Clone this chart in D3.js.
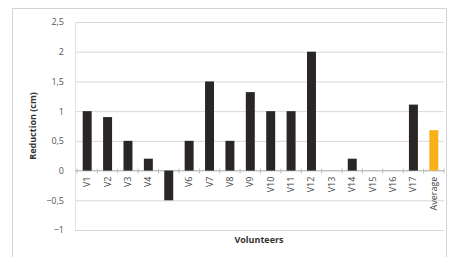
<!DOCTYPE html>
<html>
<head>
<meta charset="utf-8">
<script src="https://cdn.jsdelivr.net/npm/d3@7"></script>
<style>
  body { margin: 0; background: #fff; }
  text { font-family: "Open Sans", "DejaVu Sans", sans-serif; }
</style>
</head>
<body>
<svg width="453" height="257"></svg>
<script>
// Chart data.
const categories = ["V1", "V2", "V3", "V4", "V5", "V6", "V7", "V8", "V9", "V10",
  "V11", "V12", "V13", "V14", "V15", "V16", "V17", "Average"];
const reduction = [1, 0.9, 0.5, 0.2, -0.5, 0.5, 1.5, 0.5, 1.32, 1,
  1, 2, 0, 0.2, 0, 0, 1.11, 0.68];
const yTicks = [-1, -0.5, 0, 0.5, 1, 1.5, 2, 2.5];

// Rendering variables.
const svg = d3.select("svg");
const margin = { left: 77, right: 9, top: 22, bottom: 27 };
const width = 453, height = 257;
const comma = d3.formatLocale({ decimal: ",", thousands: ".", grouping: [3], currency: ["", ""] });
const fmt = (d) => comma.format("")(d);

const x = d3.scaleBand()
  .domain(categories)
  .range([margin.left, width - margin.right])
  .paddingInner(0.56)
  .paddingOuter(0.28);

const y = d3.scaleLinear()
  .domain([-1, 2.5])
  .range([height - margin.bottom, margin.top]);

// Outer frame.
svg.append("rect")
  .attr("x", 12.5).attr("y", 8.5)
  .attr("width", 434).attr("height", 260)
  .attr("fill", "none")
  .attr("stroke", "#d4d4d4");

// Grid lines and y labels.
svg.append("g")
  .attr("transform", `translate(${margin.left - 2},0)`)
  .call(d3.axisLeft(y).tickValues(yTicks).tickFormat(fmt)
    .tickSize(-(width - margin.right - margin.left + 2)).tickPadding(11))
  .call((g) => g.select(".domain").remove())
  .call((g) => g.selectAll("line").attr("stroke", "#d9d9d9"))
  .call((g) => g.selectAll("text").attr("fill", "#555").attr("font-size", 9));

// Y axis line.
svg.append("line")
  .attr("x1", margin.left - 1.5).attr("x2", margin.left - 1.5)
  .attr("y1", y(2.5)).attr("y2", y(-1))
  .attr("stroke", "#e2e2e2");

// Zero axis with ticks between categories.
const bounds = categories.map((c) => x(c) - x.step() * x.paddingInner() / 2);
bounds.push(width - margin.right);
svg.append("line")
  .attr("x1", margin.left - 2).attr("x2", width - margin.right)
  .attr("y1", y(0)).attr("y2", y(0))
  .attr("stroke", "#bdbdbd");
svg.selectAll(".tick-x")
  .data(bounds)
  .join("line")
  .attr("class", "tick-x")
  .attr("x1", (d) => d).attr("x2", (d) => d)
  .attr("y1", y(0) - 2).attr("y2", y(0) + 3)
  .attr("stroke", "#bdbdbd");

// Category labels, rotated.
svg.selectAll(".cat")
  .data(categories)
  .join("text")
  .attr("class", "cat")
  .attr("transform", (d) => `translate(${x(d) + x.bandwidth() / 2 + 3},${y(0) + 6}) rotate(-90)`)
  .attr("text-anchor", "end")
  .attr("fill", "#444")
  .attr("font-size", 9)
  .text((d) => d);

// Bars.
svg.selectAll(".bar")
  .data(categories)
  .join("rect")
  .attr("class", "bar")
  .attr("x", (d) => x(d))
  .attr("width", x.bandwidth())
  .attr("y", (d, i) => y(Math.max(0, reduction[i])))
  .attr("height", (d, i) => Math.abs(y(reduction[i]) - y(0)))
  .attr("fill", (d) => d === "Average" ? "#f7b21a" : "#2a2627");

// Axis titles.
svg.append("text")
  .attr("transform", `translate(36,${(y(2.5) + y(-1)) / 2}) rotate(-90)`)
  .attr("text-anchor", "middle")
  .attr("font-size", 9)
  .attr("font-weight", "bold")
  .attr("fill", "#333")
  .text("Reduction (cm)");

svg.append("text")
  .attr("x", 259).attr("y", 243)
  .attr("text-anchor", "middle")
  .attr("font-size", 9)
  .attr("font-weight", "bold")
  .attr("fill", "#333")
  .text("Volunteers");
</script>
</body>
</html>
